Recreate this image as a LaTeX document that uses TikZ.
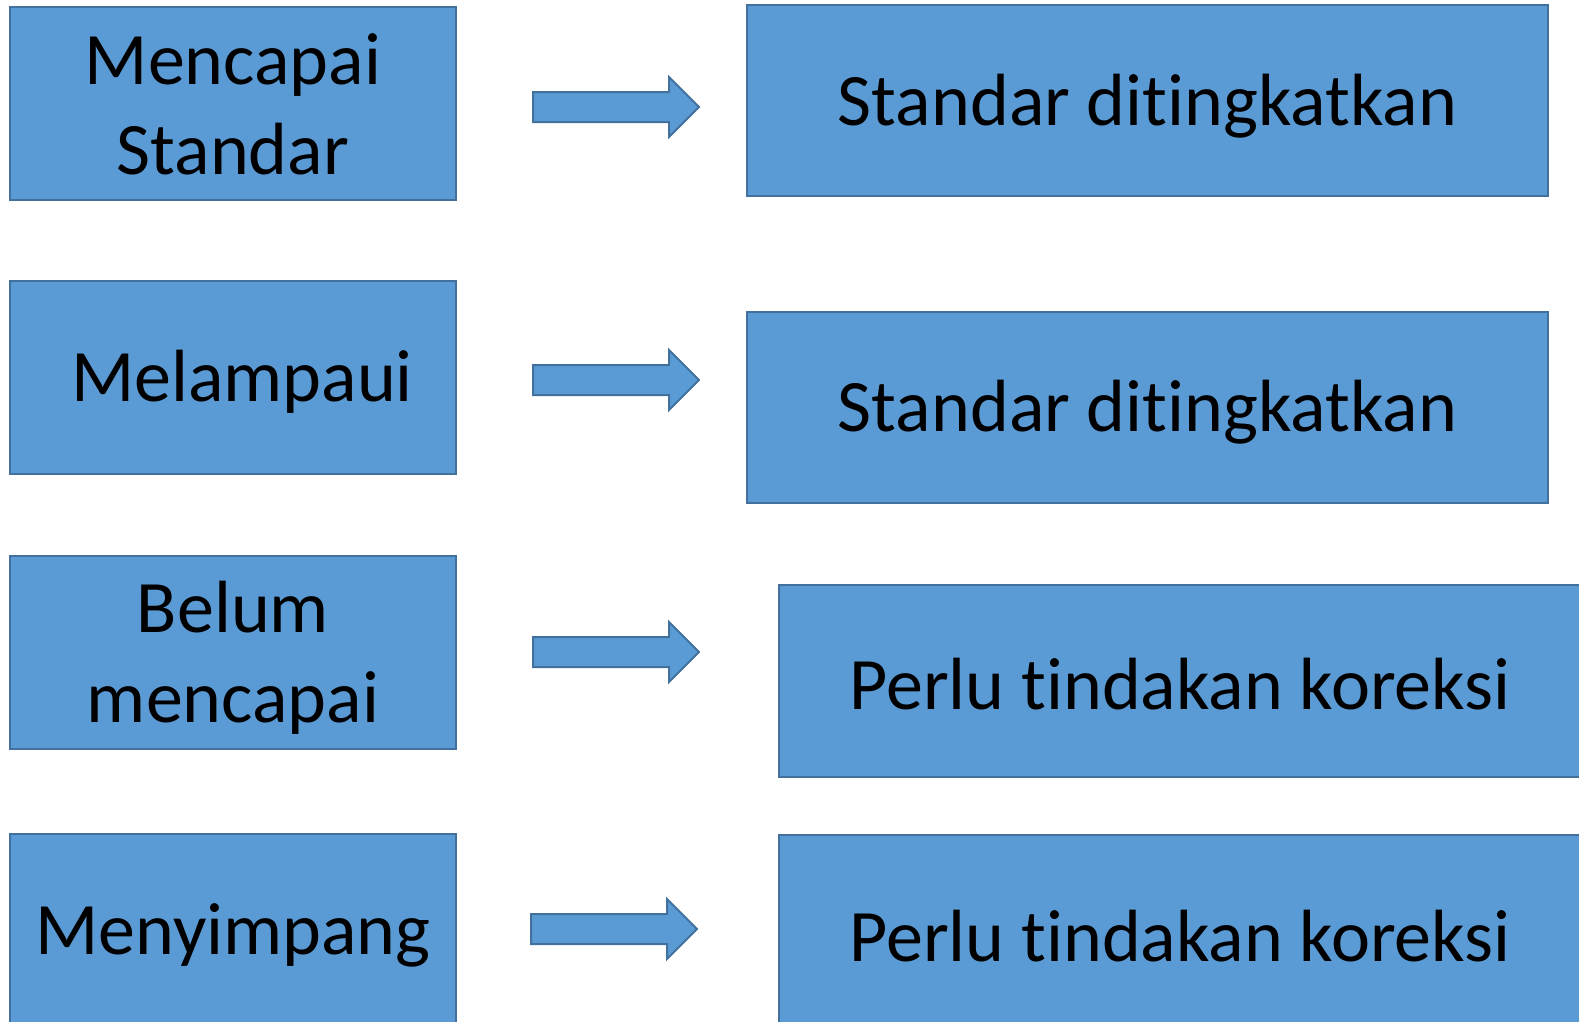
\documentclass[tikz,border=0pt]{standalone}
\usepackage{fontspec}
\setmainfont{Carlito}[Ligatures={NoCommon},RawFeature={-liga,-clig,-dlig}]
\definecolor{boxfill}{HTML}{5B9BD5}
\definecolor{boxline}{HTML}{41719C}
\begin{document}
\begin{tikzpicture}[x=1pt,y=-1pt,
  box/.style={draw=boxline,fill=boxfill,line width=2pt,inner sep=0pt},
  txt/.style={inner sep=0pt,align=center,font=\fontsize{74}{90}\selectfont},
  blockarrow/.style={draw=boxline,fill=boxfill,line width=2pt,line join=miter}]
\useasboundingbox (0,0) rectangle (1579,1021);
% left boxes
\node[box,minimum width=446pt,minimum height=193pt] (l1) at (233,103.5) {};
\node[box,minimum width=446pt,minimum height=193pt] (l2) at (233,377) {};
\node[box,minimum width=446pt,minimum height=193pt] (l3) at (233,652.5) {};
\node[box,minimum width=446pt,minimum height=193pt] (l4) at (233,930.5) {};
% right boxes
\node[box,minimum width=801pt,minimum height=191pt] (r1) at (1147.5,100.5) {};
\node[box,minimum width=801pt,minimum height=191pt] (r2) at (1147.5,407.5) {};
\node[box,minimum width=802pt,minimum height=192pt] (r3) at (1180,681) {};
\node[box,minimum width=802pt,minimum height=192pt] (r4) at (1180,931) {};
% texts
\node[txt] (tl1) at ([yshift=-1pt]l1.center) {Mencapai\\Standar};
\node[txt] (tl2) at ([xshift=9pt,yshift=-5pt]l2.center) {Melampaui};
\node[txt] (tl3) at ([yshift=-5pt]l3.center) {Belum\\mencapai};
\node[txt] (tl4) at ([yshift=-5pt]l4.center) {Menyimpang};
\node[txt] (tr1) at ([yshift=-6pt]r1.center) {Standar dit\kern0pt ingkatkan};
\node[txt] (tr2) at ([yshift=-5pt]r2.center) {Standar dit\kern0pt ingkatkan};
\node[txt] (tr3) at ([yshift=-3pt]r3.center) {Perlu t\kern0pt indakan koreksi};
\node[txt] (tr4) at ([yshift=-5pt]r4.center) {Perlu t\kern0pt indakan koreksi};
% arrows
\coordinate (a1) at (533,107);
\coordinate (a2) at (533,380);
\coordinate (a3) at (533,652);
\coordinate (a4) at (531,929);
\foreach \a in {a1,a2,a3,a4}{
  \draw[blockarrow] (\a) ++(0,-15) -- ++(136,0) -- ++(0,-15) -- ++(30,30)
    -- ++(-30,30) -- ++(0,-15) -- ++(-136,0) -- cycle;
}
\end{tikzpicture}
\end{document}
